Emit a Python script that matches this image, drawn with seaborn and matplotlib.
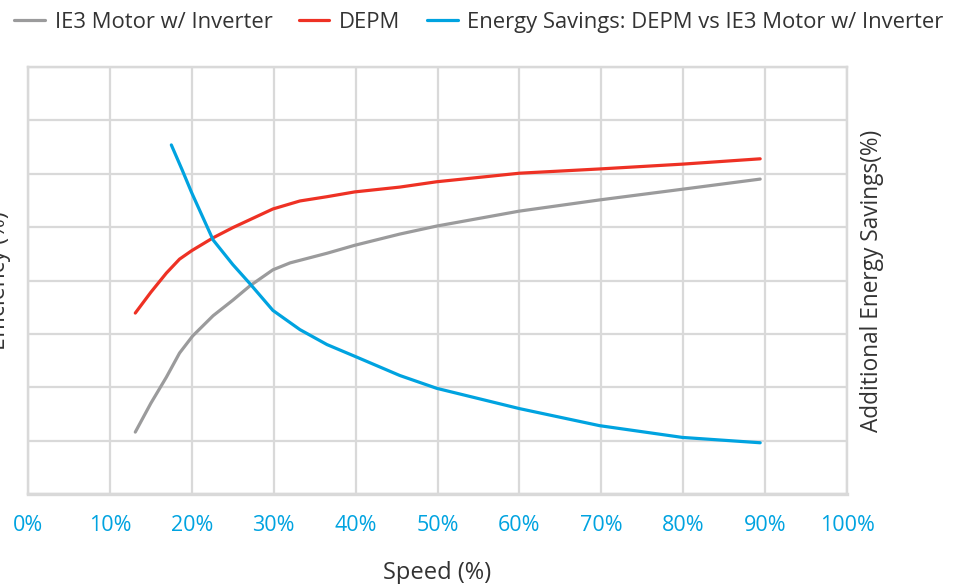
import pandas as pd
import matplotlib
matplotlib.use("Agg")
import matplotlib.pyplot as plt
import seaborn as sns

# speed (%) and efficiency
ie3_speed = [13.1, 15.0, 16.9, 18.5, 20.1, 22.6, 25.0, 27.1, 29.9, 32.0, 36.5, 39.9, 45.4, 49.9, 60.0, 69.8, 79.9, 89.4]
ie3_eff = [31.6, 37.0, 41.9, 46.4, 49.6, 53.4, 56.3, 59.0, 62.0, 63.3, 65.1, 66.6, 68.7, 70.2, 73.0, 75.1, 77.1, 79.0]

depm_speed = [13.1, 15.0, 16.9, 18.5, 20.0, 22.6, 25.0, 29.9, 33.2, 36.5, 39.9, 45.4, 49.9, 60.0, 69.8, 79.9, 89.4]
depm_eff = [53.9, 57.8, 61.4, 64.0, 65.6, 68.0, 69.9, 73.4, 74.9, 75.7, 76.6, 77.5, 78.5, 80.1, 80.9, 81.8, 82.8]

sav_speed = [17.5, 18.8, 20.0, 22.6, 25.0, 27.1, 29.9, 33.2, 36.5, 39.9, 45.4, 49.9, 60.0, 69.8, 79.9, 89.4]
sav_pct = [32.7, 30.4, 28.2, 23.8, 21.5, 19.7, 17.2, 15.4, 14.0, 12.9, 11.1, 9.9, 8.0, 6.4, 5.3, 4.8]

x_ticks = [0, 10, 20, 30, 40, 50, 60, 70, 80, 90, 100]

sns.set_style("white")
plt.rcParams['font.family'] = ['Open Sans', 'DejaVu Sans']

grey = "#9b9b9c"
red = "#ee3124"
blue = "#00a3e0"
gridc = "#d9d9d9"
txt = "#333333"

fig = plt.figure(figsize=(9.65, 5.84), dpi=100)
ax = fig.add_axes([28/965, 90/584, 819/965, 427/584])

ie3 = pd.DataFrame({"speed": ie3_speed, "eff": ie3_eff})
depm = pd.DataFrame({"speed": depm_speed, "eff": depm_eff})
sav = pd.DataFrame({"speed": sav_speed, "sav": sav_pct})

sns.lineplot(data=ie3, x="speed", y="eff", ax=ax, color=grey, lw=2.3,
             label="IE3 Motor w/ Inverter", legend=False)
sns.lineplot(data=depm, x="speed", y="eff", ax=ax, color=red, lw=2.3,
             label="DEPM", legend=False)

ax2 = ax.twinx()
sns.lineplot(data=sav, x="speed", y="sav", ax=ax2, color=blue, lw=2.3,
             label="Energy Savings: DEPM vs IE3 Motor w/ Inverter", legend=False)

ax.set_xlim(0, 100)
ax.set_ylim(20, 100)
ax2.set_ylim(0, 40)
ax.set_xticks(x_ticks)
ax.set_xticklabels([f"{t}%" for t in x_ticks], color=blue, fontsize=15.5)
ax.set_yticks(range(20, 101, 10))
ax.set_yticklabels([])
ax2.set_yticks([])
ax.grid(True, color=gridc, lw=1.6)
ax.tick_params(axis="x", length=5, color=gridc, pad=10)
ax.tick_params(axis="y", length=0)
for a in (ax, ax2):
    for s in a.spines.values():
        s.set_color(gridc)
        s.set_linewidth(1.6)
ax.spines["bottom"].set_linewidth(2.4)

ax.set_xlabel("Speed (%)", fontsize=17, color=txt, labelpad=18)
ax.set_ylabel("Efficiency (%)", fontsize=16.5, color=txt)
ax.yaxis.set_label_coords(-0.021, 0.5)
ax2.set_ylabel("Additional Energy Savings(%)", fontsize=16.3, color=txt)
ax2.yaxis.set_label_coords(1.016, 0.5)

h1, l1 = ax.get_legend_handles_labels()
h2, l2 = ax2.get_legend_handles_labels()
fig.legend(h1 + h2, l1 + l2, loc="upper left", bbox_to_anchor=(-0.006, 1.014),
           ncol=3, frameon=False, fontsize=15.8, handlelength=1.4,
           handletextpad=0.45, columnspacing=1.2, labelcolor=txt)

fig.savefig("out.png", dpi=100)
